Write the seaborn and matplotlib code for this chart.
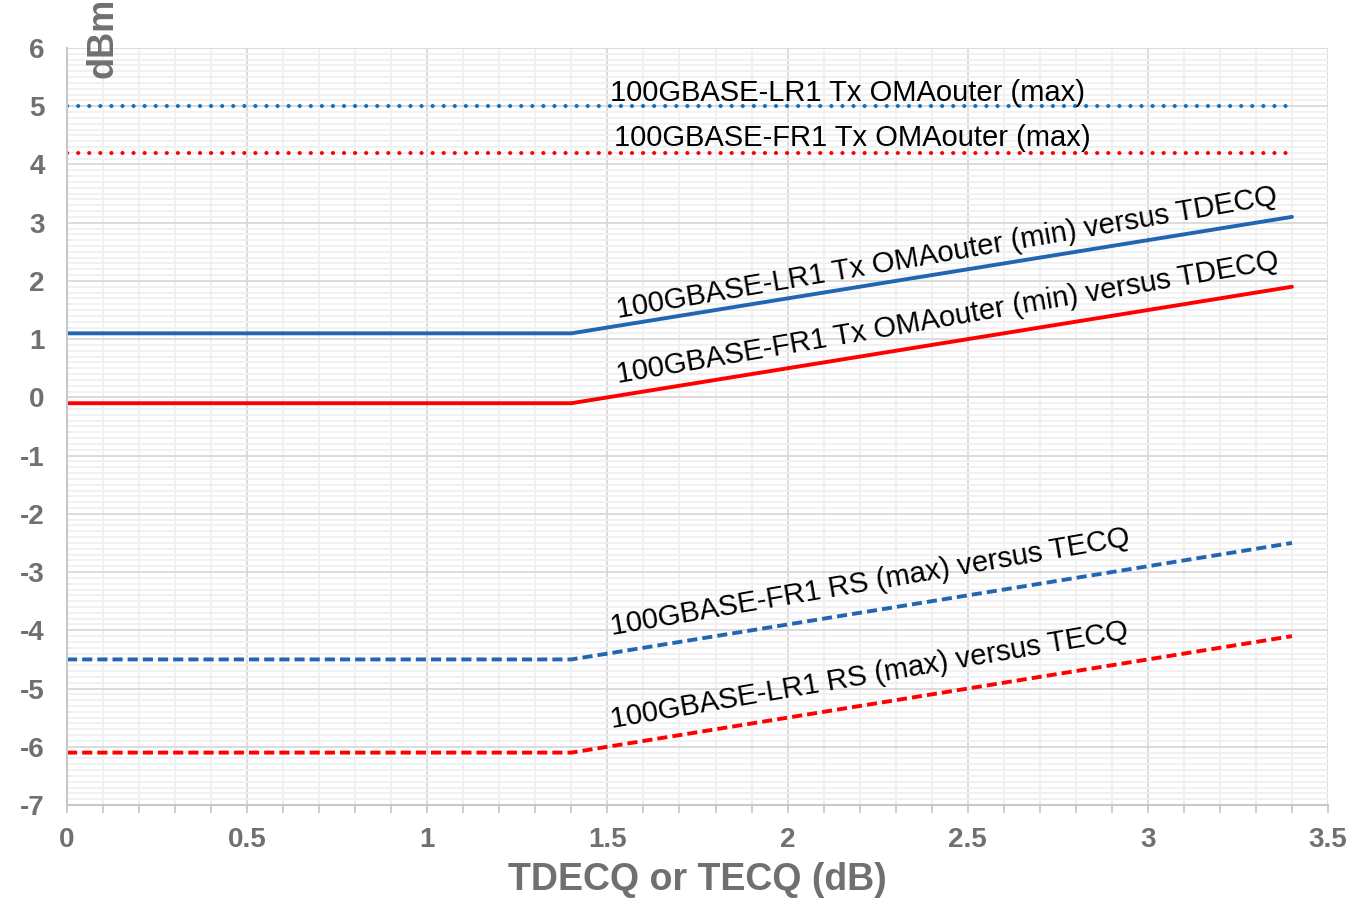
import numpy as np
import pandas as pd
import seaborn as sns
import matplotlib.pyplot as plt
from matplotlib.ticker import MultipleLocator

# данные
x_flat = [0.0, 3.4]
x_knee = [0.0, 1.4, 3.4]

lr1_tx_max = [5.0, 5.0]
fr1_tx_max = [4.2, 4.2]
lr1_tx_min = [1.1, 1.1, 3.1]
fr1_tx_min = [-0.1, -0.1, 1.9]
fr1_rs_max = [-4.5, -4.5, -2.5]
lr1_rs_max = [-6.1, -6.1, -4.1]

labels = {
    'lr1_tx_max': '100GBASE-LR1 Tx OMAouter (max)',
    'fr1_tx_max': '100GBASE-FR1 Tx OMAouter (max)',
    'lr1_tx_min': '100GBASE-LR1 Tx OMAouter (min) versus TDECQ',
    'fr1_tx_min': '100GBASE-FR1 Tx OMAouter (min) versus TDECQ',
    'fr1_rs_max': '100GBASE-FR1 RS (max) versus TECQ',
    'lr1_rs_max': '100GBASE-LR1 RS (max) versus TECQ',
}

x_ticks = [0, 0.5, 1, 1.5, 2, 2.5, 3, 3.5]
x_tick_labels = ['0', '0.5', '1', '1.5', '2', '2.5', '3', '3.5']
y_ticks = list(range(-7, 7))

BLUE = '#2266b3'
BLUE_DOT = '#0b72c4'
RED = '#ff0000'
GREY = '#707070'

sns.set_style('white')
plt.rcParams['font.family'] = ['Liberation Sans', 'DejaVu Sans']
plt.rcParams['axes.unicode_minus'] = False

fig = plt.figure(figsize=(13.58, 9.08), dpi=100)
ax = fig.add_axes([67 / 1358, 1 - 805 / 908, (1328 - 67) / 1358, (805 - 48) / 908])

dot = (0, (0.05, 2.7))
dash = (0, (2.6, 1.3))

sns.lineplot(x=x_flat, y=lr1_tx_max, color=BLUE_DOT, linewidth=2.9,
             linestyle=dot, dash_capstyle='round', ax=ax)
sns.lineplot(x=x_flat, y=fr1_tx_max, color=RED, linewidth=2.9,
             linestyle=dot, dash_capstyle='round', ax=ax)
sns.lineplot(x=x_knee, y=lr1_tx_min, color=BLUE, linewidth=2.8, ax=ax)
sns.lineplot(x=x_knee, y=fr1_tx_min, color=RED, linewidth=2.8, ax=ax)
sns.lineplot(x=x_knee, y=fr1_rs_max, color=BLUE, linewidth=2.8,
             linestyle=dash, ax=ax)
sns.lineplot(x=x_knee, y=lr1_rs_max, color=RED, linewidth=2.8,
             linestyle=dash, ax=ax)

ax.set_xlim(0, 3.5)
ax.set_ylim(-7, 6)
ax.set_xticks(x_ticks)
ax.set_xticklabels(x_tick_labels)
ax.set_yticks(y_ticks)
ax.xaxis.set_minor_locator(MultipleLocator(0.1))
ax.yaxis.set_minor_locator(MultipleLocator(0.1))

ax.grid(which='major', color='#d9d9d9', linewidth=1.3)
ax.grid(which='minor', color='#f0f0f0', linewidth=1.3)
ax.set_axisbelow(True)

for s in ['top', 'right']:
    ax.spines[s].set_visible(False)
for s in ['left', 'bottom']:
    ax.spines[s].set_color('#c8c8c8')
    ax.spines[s].set_linewidth(1.5)

ax.tick_params(axis='x', which='both', direction='out', length=6, width=1.3,
               color='#c8c8c8', bottom=True)
ax.tick_params(axis='x', which='major', labelsize=20, labelcolor=GREY, pad=10)
ax.tick_params(axis='y', which='both', length=0, labelsize=20,
               labelcolor=GREY, pad=16)
for lab in ax.get_xticklabels() + ax.get_yticklabels():
    lab.set_fontweight('bold')

ax.set_xlabel('TDECQ or TECQ (dB)', fontsize=27, fontweight='bold',
              color=GREY, labelpad=6)
ax.set_ylabel('')
fig.text(112 / 1358, 1 - 78 / 908, 'dBm', rotation=90, rotation_mode='anchor',
         ha='left', va='baseline', fontsize=26, fontweight='bold', color=GREY)

# подписи линий
txt = dict(fontsize=21, color='black')
ax.text(2.165, 5.09, labels['lr1_tx_max'], ha='center', va='baseline', **txt)
ax.text(2.18, 4.31, labels['fr1_tx_max'], ha='center', va='baseline', **txt)

ang = 9.8
for key, (x0, y0) in {
    'lr1_tx_min': (1.53, 1.36),
    'fr1_tx_min': (1.53, 0.25),
    'fr1_rs_max': (1.512, -4.08),
    'lr1_rs_max': (1.512, -5.68),
}.items():
    ax.text(x0, y0, labels[key], rotation=ang, rotation_mode='anchor',
            ha='left', va='baseline', **txt)

fig.savefig('out.png', dpi=100)
